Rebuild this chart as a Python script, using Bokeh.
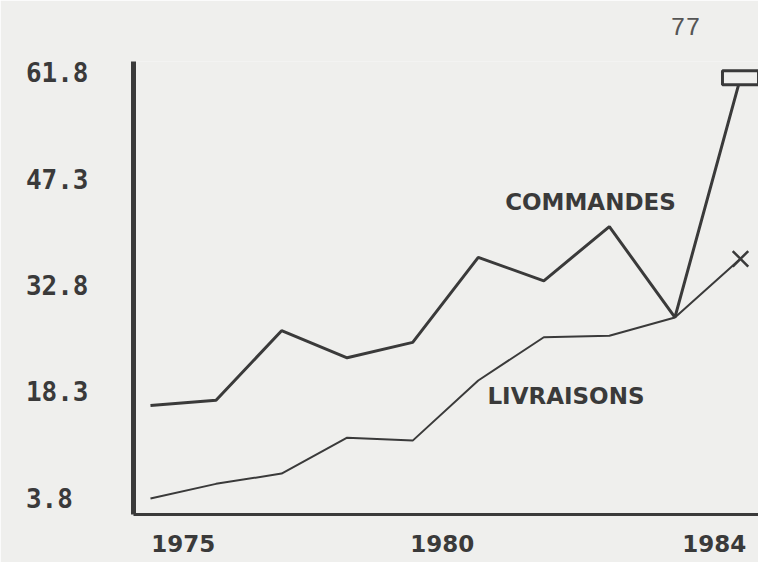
from bokeh.plotting import figure
from bokeh.models import Range1d, FixedTicker, Label, Title
from bokeh.embed import file_html
from bokeh.resources import INLINE

# ---- data ----
years = [1975, 1976, 1977, 1978, 1979, 1980, 1981, 1982, 1983, 1984]
commandes = [16.5, 17.2, 26.7, 23.0, 25.1, 36.7, 33.5, 40.9, 28.5, 61.2]
livraisons = [3.8, 5.8, 7.2, 12.1, 11.7, 19.9, 25.8, 26.0, 28.5, 36.5]
y_ticks = [3.8, 18.3, 32.8, 47.3, 61.8]
y_tick_labels = ["3.8\u00a0", "18.3", "32.8", "47.3", "61.8"]
x_label_pos = [1975.5, 1979.45, 1983.6]
x_tick_labels = ["1975", "1980", "1984"]

PAPER = "#efefed"
INK = "#3a3a3a"

p = figure(width=758, height=562, output_backend="svg", toolbar_location=None,
           x_range=Range1d(1974.741, 1984.275), y_range=Range1d(1.62, 63.42),
           min_border_left=133, min_border_right=0, min_border_top=61,
           min_border_bottom=48)
p.background_fill_color = PAPER
p.border_fill_color = PAPER
p.outline_line_color = None
p.xgrid.visible = False
p.ygrid.visible = False

# spacer between frame and page number
p.add_layout(Title(text="\u00a0", text_font_size="21px", standoff=0), "above")

# page number as title
p.title.text = "77"
p.title.align = "right"
p.title.offset = 58
p.title.standoff = 0
p.title.vertical_align = "top"
p.title.text_font = "Liberation Mono"
p.title.text_font_style = "normal"
p.title.text_font_size = "25px"
p.title.text_color = "#555555"

# y axis
p.yaxis.ticker = FixedTicker(ticks=y_ticks)
p.yaxis.major_label_overrides = {t: l for t, l in zip(y_ticks, y_tick_labels)}
p.yaxis.axis_line_width = 5
p.yaxis.axis_line_color = INK
p.yaxis.major_tick_line_color = None
p.yaxis.minor_tick_line_color = None
p.yaxis.major_tick_out = 0
p.yaxis.major_label_standoff = 45
p.yaxis.major_label_text_font = "DejaVu Sans Mono"
p.yaxis.major_label_text_font_style = "bold"
p.yaxis.major_label_text_font_size = "26px"
p.yaxis.major_label_text_color = INK

# x axis
p.xaxis.ticker = FixedTicker(ticks=x_label_pos)
p.xaxis.major_label_overrides = {t: l for t, l in zip(x_label_pos, x_tick_labels)}
p.xaxis.axis_line_width = 3
p.xaxis.axis_line_color = INK
p.xaxis.major_tick_line_color = None
p.xaxis.minor_tick_line_color = None
p.xaxis.major_tick_out = 0
p.xaxis.major_label_standoff = 20
p.xaxis.major_label_text_font = "DejaVu Sans"
p.xaxis.major_label_text_font_style = "bold"
p.xaxis.major_label_text_font_size = "23px"
p.xaxis.major_label_text_color = INK

# series
p.line(years, commandes, line_color=INK, line_width=3)
p.line(years, livraisons, line_color=INK, line_width=2)
p.rect([years[-1]], [commandes[-1]], width=36, height=14, width_units="screen",
       height_units="screen", fill_color=PAPER, line_color=INK, line_width=3)
p.scatter([years[-1]], [livraisons[-1]], marker="x", size=22, line_color=INK,
          line_width=2.5)

# series labels
for txt, x, y in [("COMMANDES", 1980.41, 44.2), ("LIVRAISONS", 1980.14, 17.85)]:
    p.add_layout(Label(x=x, y=y, text=txt, text_font="DejaVu Sans",
                       text_font_style="bold", text_font_size="23px",
                       text_color=INK, text_baseline="middle", text_align="left"))

open("out.html", "w").write(file_html(p, INLINE))
